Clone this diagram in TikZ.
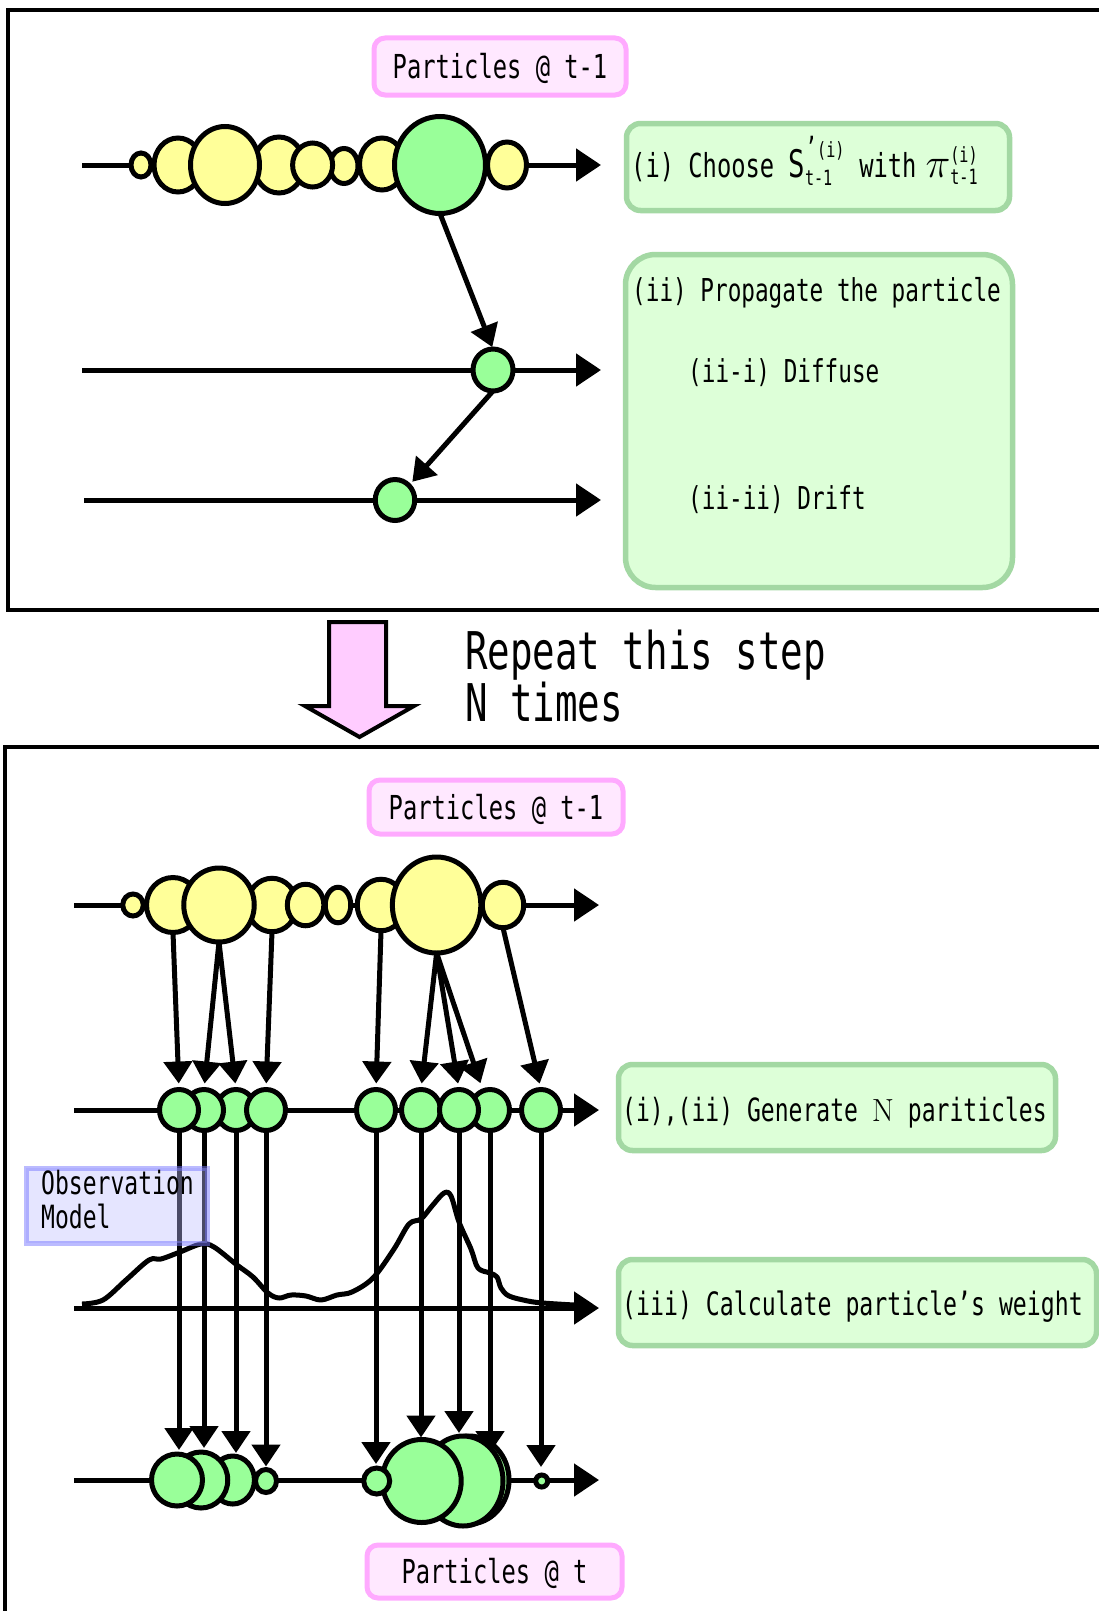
\RequirePackage{fix-cm}
\documentclass[tikz,border=0pt]{standalone}
\usepackage{amsmath}
\usepackage{fontspec}
\newfontfamily\gfont[FakeStretch=0.72]{DejaVu Sans Mono}
\usetikzlibrary{shapes.geometric,arrows.meta}
\newcommand\fs[2]{\fontsize{#1}{#2}\selectfont}
\definecolor{yel}{RGB}{255,255,153}
\definecolor{grn}{RGB}{153,255,153}
\definecolor{pinkfill}{RGB}{255,232,255}
\definecolor{pinkline}{RGB}{255,170,255}
\definecolor{gfill}{RGB}{221,255,216}
\definecolor{gline}{RGB}{163,216,163}
\definecolor{parrow}{RGB}{255,204,255}
\definecolor{obsfill}{RGB}{189,189,255}
\definecolor{obsline}{RGB}{120,120,255}
\begin{document}
\begin{tikzpicture}[x=1pt,y=-1pt,
  frame/.style={line width=3.5pt},
  axis/.style={line width=5pt,-{Triangle[length=25pt,width=32pt]}},
  con/.style={line width=5pt,-{Triangle[length=22pt,width=28pt]}},
  pc/.style={ellipse,draw,line width=5pt,inner sep=0pt,outer sep=0pt},
  pinkbox/.style={draw=pinkline,fill=pinkfill,line width=5pt,rounded corners=11pt,inner sep=0pt,
    font=\gfont\fs{33}{36},text height=24pt,text depth=0pt},
  gbox/.style={draw=gline,fill=gfill,line width=5.5pt,rounded corners=14pt,inner sep=0pt},
  lbl/.style={anchor=base west,inner sep=0pt,font=\gfont\fs{33}{36}},
  lbls/.style={anchor=base west,inner sep=0pt,font=\gfont\fs{31.5}{34}},
]
\useasboundingbox (0,0) rectangle (1099,1611);
\clip (0,0) rectangle (1099,1611);

% ---------- frames ----------
\draw[frame] (1130,10) -- (8,10) -- (8,610) -- (1130,610);
\draw[frame] (1130,747) -- (5,747) -- (5,1660);

% ---------- top panel ----------
\node[pinkbox,minimum width=252pt,minimum height=57pt] (p1) at (500,66.5) {Particles @ t-1};

\coordinate (ax1s) at (82,165);  \coordinate (ax1e) at (601,165);
\coordinate (ax2s) at (82,370);  \coordinate (ax2e) at (601,370);
\coordinate (ax3s) at (84,500);  \coordinate (ax3e) at (601,500);
\draw[axis] (ax1s) -- (ax1e);
\draw[axis] (ax2s) -- (ax2e);
\draw[axis] (ax3s) -- (ax3e);

\node[pc,fill=yel,minimum width=48pt,minimum height=54pt] (t2) at (178,165) {};
\node[pc,fill=yel,minimum width=20pt,minimum height=24pt] (t1) at (141,165) {};
\node[pc,fill=yel,minimum width=50pt,minimum height=56pt] (t4) at (279,165) {};
\node[pc,fill=yel,minimum width=69pt,minimum height=77pt] (t3) at (225,165) {};
\node[pc,fill=yel,minimum width=28pt,minimum height=35pt] (t6) at (344,166) {};
\node[pc,fill=yel,minimum width=40pt,minimum height=44pt] (t5) at (312.6,165) {};
\node[pc,fill=yel,minimum width=45pt,minimum height=52pt] (t7) at (382,164) {};
\node[pc,fill=yel,minimum width=39pt,minimum height=46pt] (t9) at (507,165) {};
\node[pc,fill=grn,minimum width=91pt,minimum height=97pt] (t8) at (440,165) {};

\node[pc,fill=grn,minimum width=40pt,minimum height=42pt] (u1) at (493,370) {};
\node[pc,fill=grn,minimum width=39.5pt,minimum height=41pt] (u2) at (395,500) {};

\draw[con,shorten >=2pt] (t8.south) -- (u1.north);
\draw[con,shorten >=5pt] (u1.south) -- (u2.north east);

\node[gbox,minimum width=383pt,minimum height=87pt] (bi) at (818,167) {};
\node[lbl] (bit) at (631,177) {(i) Choose $\mathord{\text{\fs{38}{40}S}}^{\text{\fs{28}{28}’\fs{21}{22}(i)}}_{\text{\fs{21}{22}t-1}}$ with\hspace{9pt}$\mathord{\text{\fs{42}{42}$\pi$}}^{\text{\fs{21}{22}(i)}}_{\text{\fs{21}{22}t-1}}$};

\node[gbox,rounded corners=30pt,minimum width=387pt,minimum height=333pt] (bii) at (819,421) {};
\node[lbls] (biit) at (632,301) {(ii) Propagate the particle};
\node[lbls] (biia) at (688,382) {(ii-i) Diffuse};
\node[lbls] (biib) at (688,509) {(ii-ii) Drift};

% ---------- middle ----------
\draw[line width=4pt,fill=parrow,line join=miter]
  (329,622) -- (386,622) -- (386,706) -- (414,706) -- (359.5,737) -- (305,706) -- (329,706) -- cycle;
\node[anchor=north west,align=left,inner sep=0pt,font=\gfont\fs{52}{49}] (rep) at (465,630)
  {Repeat this step\\N times};

% ---------- bottom panel ----------
\node[pinkbox,minimum width=254pt,minimum height=54pt] (p2) at (496,807) {Particles @ t-1};

\coordinate (bx1s) at (74,905);  \coordinate (bx1e) at (599,905);
\coordinate (bx2s) at (74,1110); \coordinate (bx2e) at (599,1110);
\coordinate (bx3s) at (74,1308); \coordinate (bx3e) at (599,1308);
\coordinate (bx4s) at (74,1480); \coordinate (bx4e) at (599,1480);
\draw[axis] (bx1s) -- (bx1e);
\draw[axis] (bx2s) -- (bx2e);
\draw[axis] (bx3s) -- (bx3e);
\draw[axis] (bx4s) -- (bx4e);

% weight curve
\draw[line width=5pt,line join=round] plot[smooth,tension=0.55] coordinates {
 (82,1304) (103,1300) (126,1280) (149,1260) (161,1259) (180,1252) (201,1244) (214,1247)
 (237,1265) (253,1277) (268,1293) (279,1298) (291,1295) (306,1296) (321,1300) (337,1295)
 (352,1292) (373,1278) (394,1249) (409,1224) (421,1219) (432,1206) (444,1193) (451,1196)
 (459,1222) (471,1249) (478,1268) (490,1273) (497,1277) (501,1288) (509,1296) (528,1301)
 (543,1303) (574,1305)};

% top row (yellow)
\node[pc,fill=yel,minimum width=53pt,minimum height=55pt] (b2) at (173,905) {};
\node[pc,fill=yel,minimum width=20.5pt,minimum height=22pt] (b1) at (133,905) {};
\node[pc,fill=yel,minimum width=49.5pt,minimum height=53.5pt] (b4) at (272,905) {};
\node[pc,fill=yel,minimum width=70.5pt,minimum height=74pt] (b3) at (219,905) {};
\node[pc,fill=yel,minimum width=25.5pt,minimum height=35.5pt] (b6) at (338,905) {};
\node[pc,fill=yel,minimum width=36.5pt,minimum height=41.5pt] (b5) at (305.6,905) {};
\node[pc,fill=yel,minimum width=47.5pt,minimum height=51.5pt] (b7) at (381,905) {};
\node[pc,fill=yel,minimum width=41.5pt,minimum height=45.5pt] (b9) at (503,905) {};
\node[pc,fill=yel,minimum width=88.5pt,minimum height=96pt] (b8) at (436.6,905) {};

% middle row (green)
\node[pc,fill=grn,minimum width=39pt,minimum height=41pt] (m3) at (236,1110) {};
\node[pc,fill=grn,minimum width=39pt,minimum height=41pt] (m2) at (204,1110) {};
\node[pc,fill=grn,minimum width=39pt,minimum height=41pt] (m1) at (179,1110) {};
\node[pc,fill=grn,minimum width=39pt,minimum height=41pt] (m4) at (266,1110) {};
\node[pc,fill=grn,minimum width=39pt,minimum height=41pt] (m8) at (490,1110) {};
\node[pc,fill=grn,minimum width=39pt,minimum height=41pt] (m5) at (376,1110) {};
\node[pc,fill=grn,minimum width=39pt,minimum height=41pt] (m6) at (421,1110) {};
\node[pc,fill=grn,minimum width=39pt,minimum height=41pt] (m7) at (459,1110) {};
\node[pc,fill=grn,minimum width=39pt,minimum height=41pt] (m9) at (541,1110) {};

% resampling arrows
\draw[con,shorten >=6pt] (b2.south) -- (m1.north);
\draw[con,shorten >=6pt] (b3.south) -- (m2.north);
\draw[con,shorten >=6pt] (b3.south) -- (m3.north);
\draw[con,shorten >=6pt] (b4.south) -- (m4.north);
\draw[con,shorten >=6pt] (b7.south) -- (m5.north);
\draw[con,shorten >=6pt] (b8.south) -- (m6.north);
\draw[con,shorten >=6pt] (b8.south) -- (m7.north);
\draw[con,shorten >=8pt] (b8.south) -- (m8.110);
\draw[con,shorten >=6pt] (b9.south) -- (m9.north);

% bottom row (green) positions
\path (177,1480) node[pc,draw=none,minimum width=51pt,minimum height=52pt] (bA) {}
      (201,1480) node[pc,draw=none,minimum width=53.5pt,minimum height=56pt] (bB) {}
      (232.7,1480) node[pc,draw=none,minimum width=43.5pt,minimum height=48pt] (bC) {}
      (266,1481) node[pc,draw=none,minimum width=21pt,minimum height=23pt] (bD) {}
      (376.7,1481) node[pc,draw=none,minimum width=26pt,minimum height=26pt] (bE) {}
      (421.7,1481) node[pc,draw=none,minimum width=79pt,minimum height=83pt] (bF) {}
      (463,1481) node[pc,draw=none,minimum width=80pt,minimum height=90pt] (bG) {}
      (469,1480) node[pc,draw=none,minimum width=80pt,minimum height=88pt] (bG2) {}
      (541.7,1481) node[pc,draw=none,minimum width=12pt,minimum height=12pt] (bH) {};

% weighting arrows
\draw[con,shorten >=4pt] (m1.south) -- (m1.south |- bA.north);
\draw[con,shorten >=4pt] (m2.south) -- (m2.south |- bB.north);
\draw[con,shorten >=3pt] (m3.south) -- (m3.south |- bC.north);
\draw[con,shorten >=3pt] (m4.south) -- (m4.south |- bD.north);
\draw[con,shorten >=4pt] (m5.south) -- (m5.south |- bE.north);
\draw[con,shorten >=2pt] (m6.south) -- (m6.south |- bF.north);
\draw[con,shorten >=3pt] (m7.south) -- (m7.south |- bG.north);
\draw[con,shorten >=28pt] (m8.south) -- (m8.south |- bG.center);
\draw[con,shorten >=8pt] (m9.south) -- (m9.south |- bH.north);

% bottom row circles drawn
\node[pc,fill=grn,minimum width=43.5pt,minimum height=48pt] at (bC) {};
\node[pc,fill=grn,minimum width=21pt,minimum height=23pt] at (bD) {};
\node[pc,fill=grn,minimum width=53.5pt,minimum height=56pt] at (bB) {};
\node[pc,fill=grn,minimum width=51pt,minimum height=52pt] at (bA) {};
\node[pc,fill=grn,minimum width=80pt,minimum height=88pt] at (bG2) {};
\node[pc,fill=grn,minimum width=80pt,minimum height=90pt] at (bG) {};
\node[pc,fill=grn,minimum width=79pt,minimum height=83pt] at (bF) {};
\node[pc,fill=grn,minimum width=26pt,minimum height=26pt] at (bE) {};
\node[pc,fill=grn,minimum width=12pt,minimum height=12pt] at (bH) {};

% observation model box
\node[draw=obsline,draw opacity=0.5,fill=obsfill,fill opacity=0.4,line width=5pt,
      minimum width=181pt,minimum height=75pt,inner sep=0pt] (obsbox) at (116.7,1205.6) {};
\node[anchor=north west,align=left,inner sep=0pt,font=\gfont\fs{32}{33.6}] (obs) at (41,1170)
  {Observation\\Model};

% right boxes
\node[gbox,minimum width=437pt,minimum height=86pt] (gen) at (837,1107.5) {};
\node[lbl,font=\gfont\fs{32}{35}] (gent) at (622,1121) {(i),(ii) Generate {\rmfamily N} pariticles};
\node[gbox,minimum width=478pt,minimum height=86pt] (calc) at (857.5,1302.5) {};
\node[lbl,font=\gfont\fs{32.2}{35}] (calct) at (622,1315) {(iii) Calculate particle’s weight};

\node[pinkbox,minimum width=255pt,minimum height=53pt] (p3) at (494.5,1571.5) {Particles @ t};
\end{tikzpicture}
\end{document}
